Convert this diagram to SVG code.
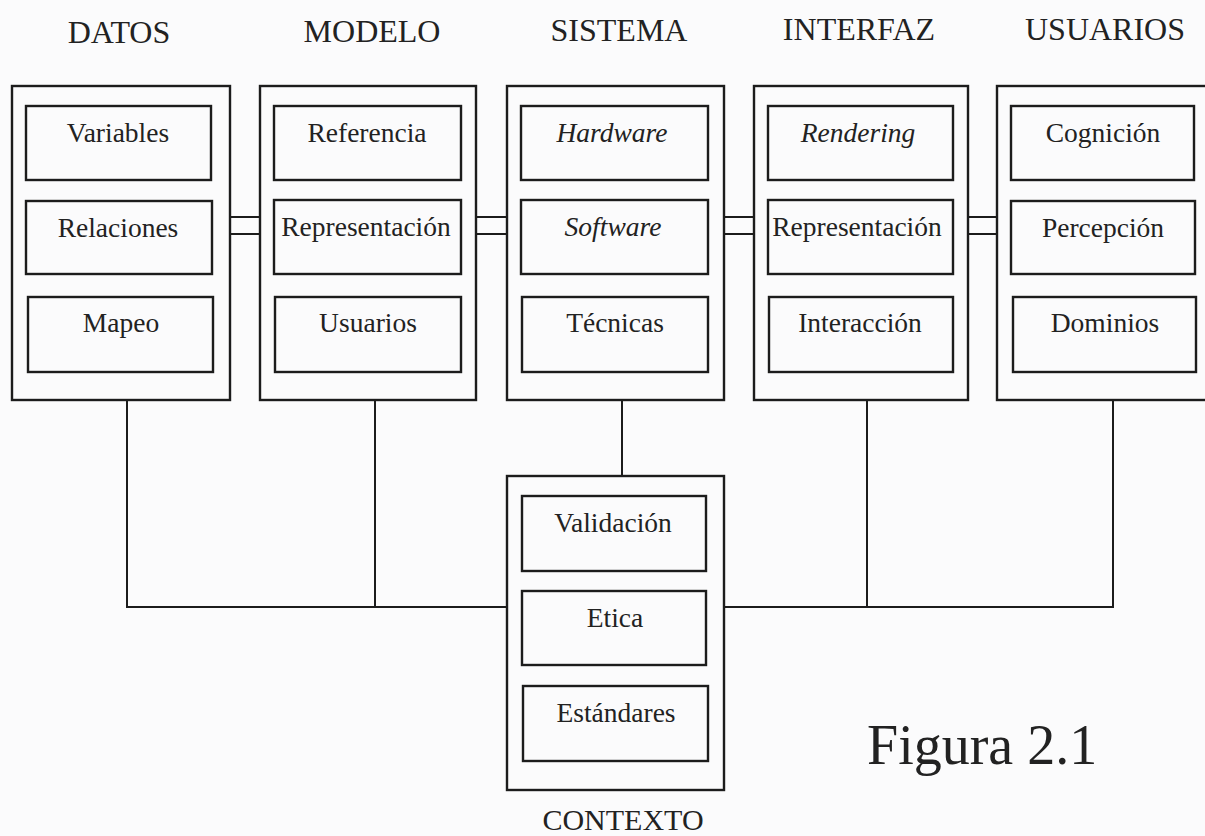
<svg xmlns="http://www.w3.org/2000/svg" width="1205" height="836" viewBox="0 0 1205 836">
  <style>
    .frame { fill: none; stroke: #1c1c1c; stroke-width: 2.4; }
    .cell { fill: none; stroke: #1c1c1c; stroke-width: 2.4; }
    .wire { fill: none; stroke: #1c1c1c; stroke-width: 2; }
    text { font-family: "Liberation Serif", "Times New Roman", serif; fill: #222; text-anchor: middle; }
    .head { font-size: 32px; }
    .item { font-size: 27.5px; }
    .it { font-style: italic; }
    .fig { font-size: 56px; text-anchor: start; }
  </style>
  <rect width="1205" height="836" fill="#fbfbfc"/>

  <!-- connectors -->
  <g id="connectors">
    <!-- double bars between neighbouring columns -->
    <path class="wire" d="M230 217 H260 M230 234 H260"/>
    <path class="wire" d="M476 217 H507 M476 234 H507"/>
    <path class="wire" d="M724 217 H754 M724 234 H754"/>
    <path class="wire" d="M968 217 H997 M968 234 H997"/>
    <!-- drops to the common bus -->
    <path class="wire" d="M127 400 V607 H507"/>
    <path class="wire" d="M375 400 V607"/>
    <path class="wire" d="M622 400 V476"/>
    <path class="wire" d="M724 607 H1113 V400"/>
    <path class="wire" d="M867 400 V607"/>
  </g>

  <g id="datos">
    <text class="head" x="119" y="43">DATOS</text>
    <rect class="frame" x="12" y="86" width="218" height="314"/>
    <rect class="cell" x="26" y="106" width="185" height="74"/>
    <text class="item" x="118" y="142">Variables</text>
    <rect class="cell" x="26" y="201" width="186" height="73"/>
    <text class="item" x="118" y="237">Relaciones</text>
    <rect class="cell" x="28" y="297" width="185" height="75"/>
    <text class="item" x="121" y="332">Mapeo</text>
  </g>

  <g id="modelo">
    <text class="head" x="372" y="42">MODELO</text>
    <rect class="frame" x="260" y="86" width="216" height="314"/>
    <rect class="cell" x="274" y="106" width="187" height="74"/>
    <text class="item" x="367" y="142">Referencia</text>
    <rect class="cell" x="274" y="200" width="187" height="74"/>
    <text class="item" x="366" y="236">Representación</text>
    <rect class="cell" x="275" y="297" width="186" height="75"/>
    <text class="item" x="368" y="332">Usuarios</text>
  </g>

  <g id="sistema">
    <text class="head" x="619" y="41">SISTEMA</text>
    <rect class="frame" x="507" y="86" width="217" height="314"/>
    <rect class="cell" x="521" y="106" width="187" height="74"/>
    <text class="item it" x="612" y="142">Hardware</text>
    <rect class="cell" x="521" y="200" width="187" height="74"/>
    <text class="item it" x="613" y="236">Software</text>
    <rect class="cell" x="522" y="297" width="186" height="75"/>
    <text class="item" x="615" y="332">Técnicas</text>
  </g>

  <g id="interfaz">
    <text class="head" x="859" y="40">INTERFAZ</text>
    <rect class="frame" x="754" y="86" width="214" height="314"/>
    <rect class="cell" x="768" y="106" width="185" height="74"/>
    <text class="item it" x="858" y="142">Rendering</text>
    <rect class="cell" x="768" y="200" width="185" height="74"/>
    <text class="item" x="857" y="236">Representación</text>
    <rect class="cell" x="769" y="297" width="184" height="75"/>
    <text class="item" x="860" y="332">Interacción</text>
  </g>

  <g id="usuarios">
    <text class="head" x="1105" y="40">USUARIOS</text>
    <rect class="frame" x="997" y="86" width="216" height="314"/>
    <rect class="cell" x="1011" y="106" width="183" height="74"/>
    <text class="item" x="1103" y="142">Cognición</text>
    <rect class="cell" x="1011" y="201" width="184" height="73"/>
    <text class="item" x="1103" y="237">Percepción</text>
    <rect class="cell" x="1013" y="297" width="183" height="75"/>
    <text class="item" x="1105" y="332">Dominios</text>
  </g>

  <g id="contexto">
    <rect class="frame" x="507" y="476" width="217" height="314"/>
    <rect class="cell" x="522" y="496" width="184" height="75"/>
    <text class="item" x="613" y="532">Validación</text>
    <rect class="cell" x="522" y="591" width="184" height="74"/>
    <text class="item" x="615" y="627">Etica</text>
    <rect class="cell" x="523" y="686" width="185" height="75"/>
    <text class="item" x="616" y="722">Estándares</text>
    <text class="head" x="623" y="830" style="font-size:30px">CONTEXTO</text>
  </g>

  <g id="caption">
    <text class="fig" x="867" y="764">Figura 2.1</text>
  </g>
</svg>
